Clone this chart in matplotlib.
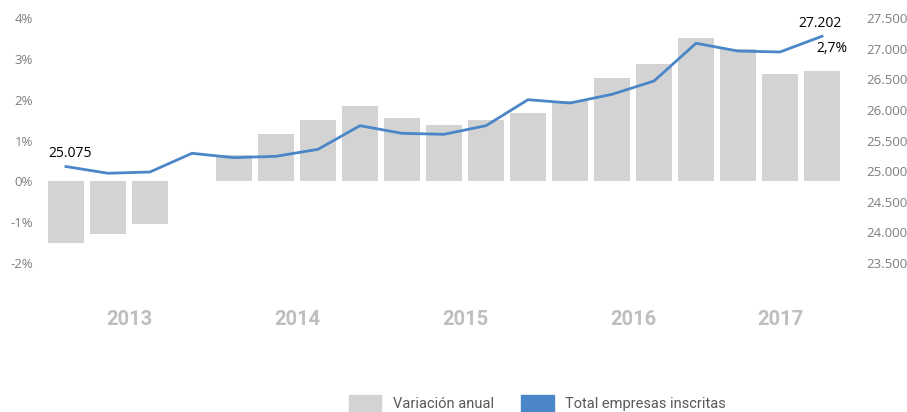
import matplotlib.pyplot as plt
from matplotlib.patches import Patch
from matplotlib.ticker import FuncFormatter

# datos trimestrales 2013T1 - 2017T3
anio = [2013] * 4 + [2014] * 4 + [2015] * 4 + [2016] * 4 + [2017] * 3
variacion = [-1.50, -1.30, -1.05, 0.02, 0.65, 1.15, 1.49, 1.84, 1.54, 1.37,
             1.51, 1.67, 1.96, 2.54, 2.87, 3.50, 3.25, 2.64, 2.70]
empresas = [25075, 24965, 24986, 25291, 25220, 25242, 25356, 25742, 25617, 25601,
            25742, 26166, 26112, 26254, 26471, 27087, 26961, 26945, 27202]
anios = [2013, 2014, 2015, 2016, 2017]

gris = '#d3d3d3'
azul = '#4a86c8'
gris_txt = '#7f7f7f'
fuente = 'Open Sans'

fig = plt.figure(figsize=(9.07, 4.12), dpi=100)
ax = fig.add_axes([45 / 907, 149 / 412, 798 / 907, 245 / 412])
ax2 = ax.twinx()

x = list(range(len(variacion)))
ax.bar(x, variacion, width=0.88, color=gris, zorder=2)
ax2.plot(x, empresas, color=azul, lw=2.0, zorder=3)

ax.set_xlim(-0.5, len(x) - 0.5)
ax.set_ylim(-2, 4)
ax.set_yticks(range(-2, 5))
ax.yaxis.set_major_formatter(FuncFormatter(lambda v, p: f'{v:.0f}%'))
ax2.set_ylim(23500, 27500)
ax2.set_yticks(range(23500, 28000, 500))
ax2.yaxis.set_major_formatter(FuncFormatter(lambda v, p: f'{v:,.0f}'.replace(',', '.')))

for a in (ax, ax2):
    for s in a.spines.values():
        s.set_visible(False)
    a.tick_params(length=0, labelsize=9.5, colors=gris_txt)
    for lab in a.get_yticklabels():
        lab.set_fontfamily(fuente)
ax.set_xticks([])
ax.tick_params(axis='y', pad=8.5)
ax2.tick_params(axis='y', pad=17)

# etiquetas de anio
for a_ in anios:
    idx = [i for i, v in enumerate(anio) if v == a_]
    ax.text(sum(idx) / len(idx), -0.2286, str(a_), transform=ax.get_xaxis_transform(),
            ha='center', va='center', fontsize=14.5, fontweight='bold', color='#bebebe',
            family='Roboto')

# anotaciones
ax2.annotate(f'{empresas[0]:,}'.replace(',', '.'), (x[0], empresas[0]), xytext=(3, 9.6),
             textcoords='offset points', ha='center', va='center', fontsize=10, family=fuente)
ax2.annotate(f'{empresas[-1]:,}'.replace(',', '.'), (x[-1], empresas[-1]), xytext=(-1.5, 9),
             textcoords='offset points', ha='center', va='center', fontsize=10, family=fuente)
ax.annotate(f'{variacion[-1]:.1f}%'.replace('.', ','), (x[-1], variacion[-1]), xytext=(7.5, 16.5),
            textcoords='offset points', ha='center', va='center', fontsize=10, family=fuente)

handles = [Patch(color=gris), Patch(color=azul)]
fig.legend(handles, ['Variación anual', 'Total empresas inscritas'], loc='upper left',
           bbox_to_anchor=(349 / 907, 17 / 412), ncol=2, frameon=False, borderpad=0,
           borderaxespad=0, handlelength=2.2, handleheight=1.4, handletextpad=0.8,
           columnspacing=1.9, prop={'family': 'Roboto', 'size': 10.5},
           labelcolor='#595959')

fig.savefig('out.png', dpi=100)
